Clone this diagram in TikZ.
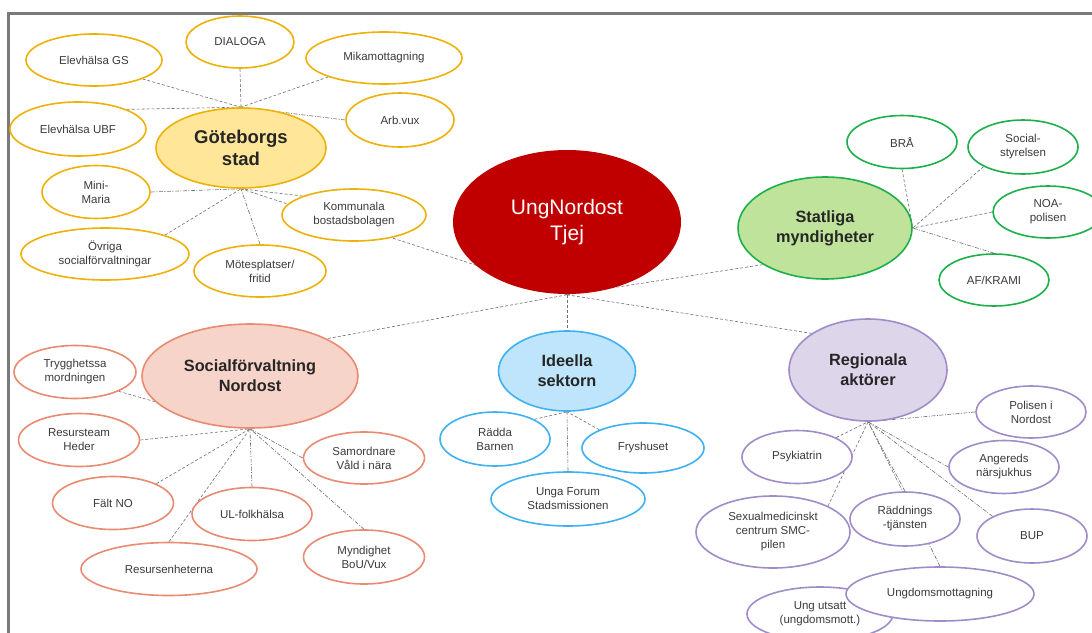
\documentclass[tikz,border=0pt]{standalone}
\usepackage{fontspec}
\setmainfont{Liberation Sans}
\usetikzlibrary{shapes.geometric}
\pgfdeclarelayer{bg}
\pgfsetlayers{bg,main}
\definecolor{gsB}{HTML}{EDB10A}
\definecolor{gsF}{HTML}{FFE699}
\definecolor{grB}{HTML}{1DB04A}
\definecolor{grF}{HTML}{BFE39B}
\definecolor{sfB}{HTML}{E98A72}
\definecolor{sfF}{HTML}{F7D4C9}
\definecolor{idB}{HTML}{3FB0F0}
\definecolor{idF}{HTML}{BEE5FB}
\definecolor{rgB}{HTML}{A08CC8}
\definecolor{rgF}{HTML}{DDD5EA}
\definecolor{unF}{HTML}{C00000}
\definecolor{lnk}{HTML}{6E6E6E}
\definecolor{txt}{HTML}{3B3B3B}
\definecolor{hubtxt}{HTML}{262626}
\definecolor{frm}{HTML}{7A7A7A}
\tikzset{
  ell/.style={ellipse, draw, line width=1.6pt, fill=white, inner sep=0pt, align=center,
    text=txt, font=\fontsize{11.5}{14}\selectfont},
  sz/.style 2 args={minimum width=#1pt, minimum height=#2pt},
  gyl/.style={ell, draw=gsB},
  grl/.style={ell, draw=grB},
  sfl/.style={ell, draw=sfB},
  idl/.style={ell, draw=idB},
  rgl/.style={ell, draw=rgB},
  hub/.style={ell, text=hubtxt, font=\bfseries\fontsize{16.3}{20}\selectfont},
  link/.style={draw=lnk, line width=0.6pt, dash pattern=on 3pt off 2pt},
  dlink/.style={draw=lnk, line width=0.6pt, dash pattern=on 4pt off 1.5pt on 1pt off 1.5pt},
}
\begin{document}
\begin{tikzpicture}[x=1pt, y=-1pt]
\useasboundingbox (0,0) rectangle (1092,632);
% frame
\draw[frm, line width=2.2pt] (8.5,660) -- (8.5,13.5) -- (1110,13.5);

% central
\node[ell, draw=none, fill=unF, text=white, font=\fontsize{21}{26.5}\selectfont, sz={228}{144}] (un) at (567,222) {UngNordost\\Tjej};

% Goteborgs stad cluster
\node[hub, draw=gsB, fill=gsF, font=\bfseries\fontsize{18.5}{22.5}\selectfont, sz={170}{80}] (gs) at (241,148) {Göteborgs\\stad};
\node[gyl, sz={136}{52}] (egs) at (94,60) {Elevhälsa GS};
\node[gyl, sz={108}{52}] (dia) at (240,42) {DIALOGA};
\node[gyl, sz={156}{52}] (mika) at (384,58) {Mikamottagning};
\node[gyl, sz={108}{54}] (arb) at (400,120) {Arb.vux};
\node[gyl, sz={136}{54}] (ubf) at (78,129) {Elevhälsa UBF};
\node[gyl, sz={108}{53}] (mm) at (96,192) {Mini-\\Maria};
\node[gyl, sz={144}{52}] (kb) at (354,215) {Kommunala\\bostadsbolagen};
\node[gyl, sz={168}{52}] (ov) at (105,254) {Övriga\\socialförvaltningar};
\node[gyl, sz={132}{52}] (mot) at (260,271) {Mötesplatser/\\fritid};

% Statliga cluster
\node[hub, draw=grB, fill=grF, sz={174}{102}] (st) at (825,228) {Statliga\\myndigheter};
\node[grl, sz={110}{53}] (bra) at (902,142) {BRÅ};
\node[grl, sz={110}{54}] (ss) at (1023,147) {Social-\\styrelsen};
\node[grl, sz={110}{52}] (noa) at (1048,212) {NOA-\\polisen};
\node[grl, sz={110}{52}] (af) at (994,280) {AF/KRAMI};

% Socialforvaltning cluster
\node[hub, draw=sfB, fill=sfF, sz={216}{104}] (sf) at (250,376) {Socialförvaltning\\Nordost};
\node[sfl, sz={122}{53}] (tr) at (75,372) {Trygghetssa\\mordningen};
\node[sfl, sz={121}{53}] (rh) at (79,440) {Resursteam\\Heder};
\node[sfl, sz={121}{52}] (sam) at (364,458) {Samordnare\\Våld i nära};
\node[sfl, sz={121}{53}] (fn) at (113,503) {Fält NO};
\node[sfl, sz={120}{53}] (ul) at (252,514) {UL-folkhälsa};
\node[sfl, sz={176}{53}] (re) at (169,569) {Resursenheterna};
\node[sfl, sz={121}{54}] (my) at (364,557) {Myndighet\\BoU/Vux};

% Ideella cluster
\node[hub, draw=idB, fill=idF, sz={137}{80}] (id) at (567,371) {Ideella\\sektorn};
\node[idl, sz={110}{54}] (rb) at (495,439) {Rädda\\Barnen};
\node[idl, sz={122}{50}] (fh) at (643,448) {Fryshuset};
\node[idl, sz={154}{54}] (uf) at (568,499) {Unga Forum\\Stadsmissionen};

% Regionala cluster
\node[hub, draw=rgB, fill=rgF, sz={158}{102}] (rg) at (868,370) {Regionala\\aktörer};
\node[rgl, sz={110}{52}] (pol) at (1031,412) {Polisen i\\Nordost};
\node[rgl, sz={110}{53}] (psy) at (797,457) {Psykiatrin};
\node[rgl, sz={110}{53}] (ang) at (1004,467) {Angereds\\närsjukhus};
\node[rgl, sz={154}{72}] (smc) at (773,532) {Sexualmedicinskt\\centrum SMC-\\pilen};
\node[rgl, sz={110}{54}] (rt) at (905,519) {Räddnings\\-tjänsten};
\node[rgl, sz={110}{54}] (bup) at (1032,536) {BUP};
\node[rgl, sz={146}{54}] (uu) at (820,614) {Ung utsatt\\(ungdomsmott.)};
\node[rgl, sz={188}{54}] (um) at (940,594) {Ungdomsmottagning};

\begin{pgfonlayer}{bg}
% main hub links
\draw[link] (un.south) -- (gs.south);
\draw[link] (un.south) -- (st.south west);
\draw[link] (un.south) -- (sf.north east);
\draw[link] (un.south) -- (id.north);
\draw[link] (un.south) -- (rg.north west);
% Goteborgs
\draw[link] (egs.south east) -- (gs.north);
\draw[link] (dia.south) -- (gs.north);
\draw[link] (mika.south west) -- (gs.north);
\draw[link] (ubf.north east) -- (gs.north);
\draw[dlink] (arb.west) -- (gs.north);
\draw[dlink] (mm.east) -- (gs.south);
\draw[link] (ov.north east) -- (gs.south);
\draw[dlink] (mot.north) -- (gs.south);
\draw[link] (kb.north west) -- (gs.south);
% Statliga
\draw[link] (bra.south) -- (st.east);
\draw[link] (ss.south west) -- (st.east);
\draw[link] (noa.west) -- (st.east);
\draw[dlink] (af.north) -- (st.east);
% Socialforvaltning
\draw[link] (tr.south east) -- (sf.south);
\draw[link] (rh.east) -- (sf.south);
\draw[link] (fn.north east) -- (sf.south);
\draw[link] (re.north) -- (sf.south);
\draw[dlink] (ul.north) -- (sf.south);
\draw[dlink] (sam.west) -- (sf.south);
\draw[dlink] (my.north) -- (sf.south);
% Ideella
\draw[link] (rb.north east) -- (id.south);
\draw[link] (fh.north west) -- (id.south);
\draw[dlink] (uf.north) -- (id.south);
% Regionala
\draw[dlink] (pol.west) -- (rg.south);
\draw[link] (psy) -- (rg.south);
\draw[link] (smc.north east) -- (rg.south);
\draw[dlink] (rt.north) -- (rg.south);
\draw[dlink] (um.north) -- (rg.south);
\draw[dlink] (ang.west) -- (rg.south);
\draw[dlink] (bup.north west) -- (rg.south);
\end{pgfonlayer}
\end{tikzpicture}
\end{document}
